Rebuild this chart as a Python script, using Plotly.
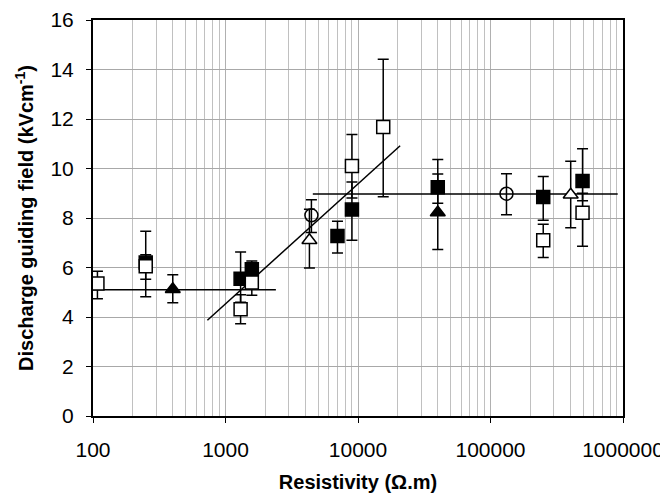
import plotly.graph_objects as go

# resistivity (ohm.m), field (kV/cm), error bar top and bottom
open_sq_x = [108, 250, 1300, 1580, 9000, 15500, 250000, 495000]
open_sq_y = [5.35, 6.05, 4.31, 5.39, 10.1, 11.68, 7.1, 8.21]
open_sq_hi = [5.85, 7.46, 4.9, 5.9, 11.37, 14.41, 7.75, 9.0]
open_sq_lo = [4.74, 4.82, 3.73, 4.88, 8.81, 8.86, 6.4, 6.86]

fill_sq_x = [250, 1300, 1580, 7000, 9000, 40000, 250000, 495000]
fill_sq_y = [6.2, 5.55, 5.93, 7.27, 8.34, 9.24, 8.85, 9.49]
fill_sq_hi = [6.52, 6.63, 6.26, 7.87, 9.45, 10.36, 9.68, 10.8]
fill_sq_lo = [5.53, 4.6, 5.6, 6.59, 7.1, 8.6, 7.91, 8.7]

fill_tri_x = [400, 40000]
fill_tri_y = [5.12, 8.22]
fill_tri_hi = [5.71, 9.78]
fill_tri_lo = [4.58, 6.73]

open_tri_x = [4300, 403000]
open_tri_y = [7.1, 8.94]
open_tri_hi = [8.35, 10.29]
open_tri_lo = [5.98, 7.61]

circ_x = [4450, 132000]
circ_y = [8.11, 8.98]
circ_hi = [8.74, 9.79]
circ_lo = [7.41, 8.13]

# fitted trend lines
low_x, low_y = [100, 2400], [5.1, 5.1]
mid_x, mid_y = [730, 20800], [3.87, 10.92]
high_x, high_y = [4560, 912000], [8.97, 8.97]

x_ticks = [100, 1000, 10000, 100000, 1000000]
x_labels = ["100", "1000", "10000", "100000", "1000000"]

fig = go.Figure()

for lx, ly in [(low_x, low_y), (mid_x, mid_y), (high_x, high_y)]:
    fig.add_trace(go.Scatter(x=lx, y=ly, mode="lines",
                             line=dict(color="black", width=1.5), hoverinfo="skip"))


def add_points(xs, ys, hi, lo, symbol, fill):
    fig.add_trace(go.Scatter(
        x=xs, y=ys, mode="markers",
        marker=dict(symbol=symbol, size=13, color=fill,
                    line=dict(color="black", width=1.5)),
        error_y=dict(type="data", symmetric=False,
                     array=[h - y for h, y in zip(hi, ys)],
                     arrayminus=[y - l for l, y in zip(lo, ys)],
                     color="black", thickness=1.5, width=5.5),
    ))


add_points(fill_sq_x, fill_sq_y, fill_sq_hi, fill_sq_lo, "square", "black")
add_points(open_sq_x, open_sq_y, open_sq_hi, open_sq_lo, "square", "white")
add_points(fill_tri_x, fill_tri_y, fill_tri_hi, fill_tri_lo, "triangle-up", "black")
add_points(open_tri_x, open_tri_y, open_tri_hi, open_tri_lo, "triangle-up", "white")
add_points(circ_x, circ_y, circ_hi, circ_lo, "circle-open", "black")

minor_vals = [k * 10 ** d for d in range(2, 6) for k in range(2, 10)]

# page body has an 8px margin, so the figure is sized to fit the window
fig.update_layout(
    width=660, height=492,
    margin=dict(l=85, r=45, t=12, b=84),
    paper_bgcolor="white", plot_bgcolor="white",
    showlegend=False,
    font=dict(family="Liberation Sans, Arial, sans-serif", size=21, color="black"),
)
fig.update_xaxes(
    type="log", range=[2, 6], automargin=False,
    tickvals=x_ticks, ticktext=x_labels, tickfont=dict(size=21),
    ticks="outside", ticklen=5, tickcolor="black", ticklabelstandoff=9,
    ticklabeloverflow="allow",
    showline=True, linecolor="black", linewidth=2, mirror=True,
    showgrid=True, gridcolor="#b0b0b0", gridwidth=1,
    minor=dict(tickvals=minor_vals, showgrid=True, gridcolor="#c0c0c0", gridwidth=1, ticks=""),
    title=dict(text="<b>Resistivity (Ω.m)</b>", font=dict(size=20), standoff=15),
    zeroline=False,
)
fig.update_yaxes(
    range=[0, 16], dtick=2, automargin=False, tickfont=dict(size=21),
    ticks="outside", ticklen=5, tickcolor="black", ticklabelstandoff=8,
    ticklabeloverflow="allow",
    showline=True, linecolor="black", linewidth=2, mirror=True,
    showgrid=True, gridcolor="#a8a8a8", gridwidth=1,
    title=dict(text="<b>Discharge guiding field (kVcm<sup>-1</sup>)</b>", font=dict(size=20), standoff=11),
    zeroline=False,
)

fig.write_html("out.html")
